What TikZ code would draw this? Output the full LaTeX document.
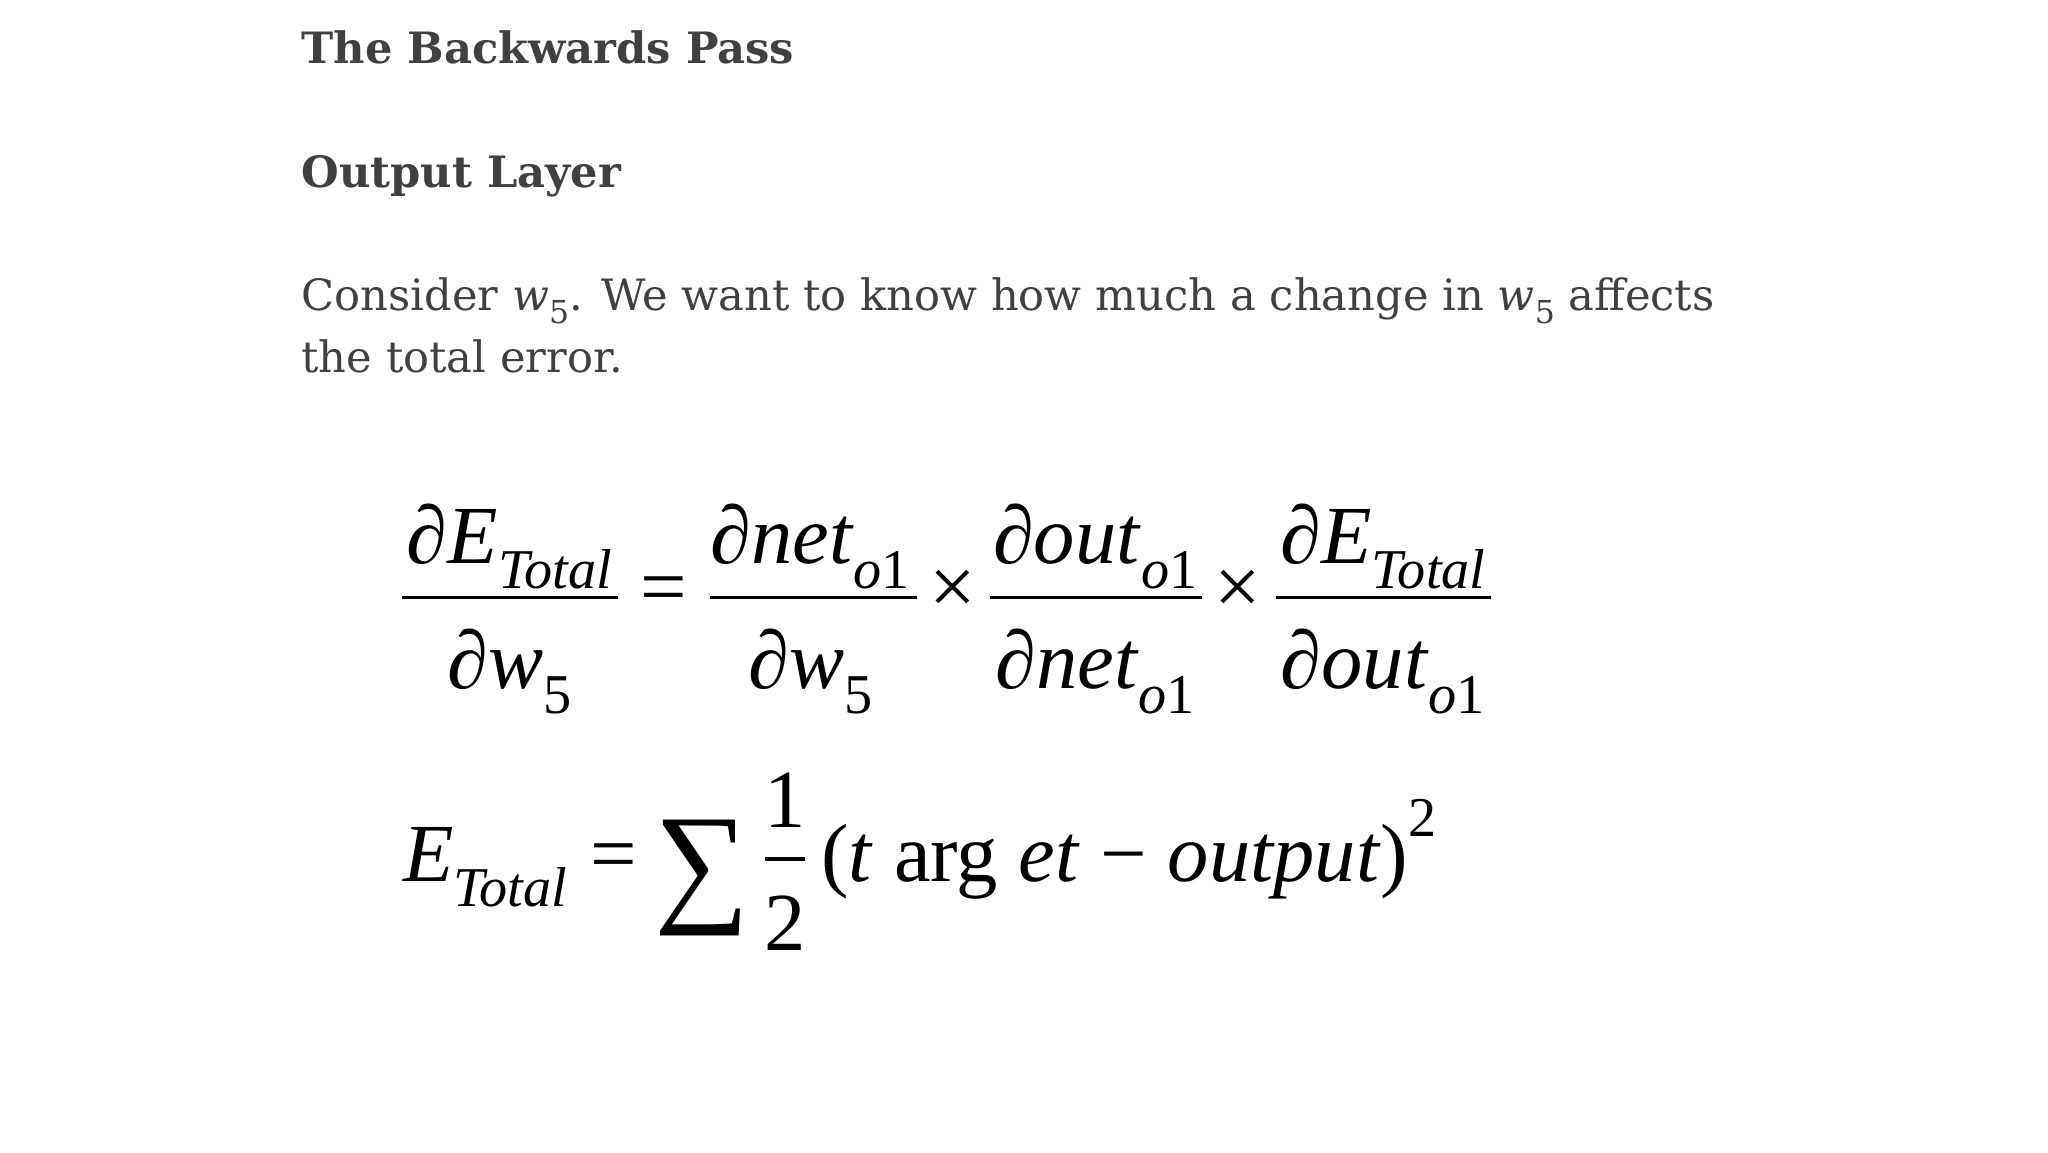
\documentclass[tikz,border=0pt]{standalone}
\usepackage{fontspec}
\setmainfont{Liberation Serif}
\newfontfamily\txt{DejaVu Serif}
\newfontfamily\tms{Liberation Serif}
\definecolor{tgray}{HTML}{404040}
\newcommand{\mbig}{\fontsize{23.5}{27}\selectfont}
\newcommand{\msub}[1]{\raisebox{-0.3em}{\fontsize{16}{19}\selectfont #1}}
\begin{document}
\begin{tikzpicture}[x=0.013196cm,y=-0.013196cm,
  ttl/.style={anchor=base west,inner sep=0,text=tgray,font=\txt\bfseries\fontsize{12.3}{15}\selectfont},
  body/.style={anchor=base west,inner sep=0,text=tgray,font=\txt\fontsize{12.3}{15}\selectfont},
  mth/.style={anchor=base,inner sep=0,font=\tms\mbig},
  fl/.style={line width=0.9pt}]
\useasboundingbox (0,0) rectangle (1552,873);
\node[ttl] (t1) at (228,48) {The Backwards Pass};
\node[ttl] (t2) at (228,142) {Output Layer};
\node[body] (b1) at (228,235) {Consider \textit{w}\raisebox{-0.3em}{\fontsize{9}{11}\selectfont 5}. We want to know how much a change in \textit{w}\raisebox{-0.3em}{\fontsize{9}{11}\selectfont 5} affects};
\node[body] (b2) at (228,282) {the total error.};
% fraction 1
\coordinate (f1a) at (305,453); \coordinate (f1b) at (468,453);
\draw[fl] (f1a) -- (f1b);
\node[mth] (n1) at (386,427) {∂\textit{E}\msub{\textit{Total}}};
\node[mth] (d1) at (386,522) {∂\textit{w}\msub{5}};
\node[mth] (eq1) at (503,466) {=};
% fraction 2
\coordinate (f2a) at (538,453); \coordinate (f2b) at (695,453);
\draw[fl] (f2a) -- (f2b);
\node[mth] (n2) at (614,427) {∂\textit{net}\msub{\textit{o}1}};
\node[mth] (d2) at (614,522) {∂\textit{w}\msub{5}};
\node[mth] (x1) at (722,466) {×};
% fraction 3
\coordinate (f3a) at (750,453); \coordinate (f3b) at (911,453);
\draw[fl] (f3a) -- (f3b);
\node[mth] (n3) at (830,427) {∂\textit{out}\msub{\textit{o}1}};
\node[mth] (d3) at (830,522) {∂\textit{net}\msub{\textit{o}1}};
\node[mth] (x2) at (938,466) {×};
% fraction 4
\coordinate (f4a) at (967,453); \coordinate (f4b) at (1130,453);
\draw[fl] (f4a) -- (f4b);
\node[mth] (n4) at (1048,427) {∂\textit{E}\msub{\textit{Total}}};
\node[mth] (d4) at (1048,522) {∂\textit{out}\msub{\textit{o}1}};
% second equation
\node[mth,anchor=base west] (et) at (305,668) {\textit{E}\msub{\textit{Total}}};
\node[mth] (eq2) at (465,668) {=};
\node[mth,font=\tms\fontsize{38}{42}\selectfont] (sig) at (532,688) {∑};
\coordinate (h1) at (580,651); \coordinate (h2) at (610,651);
\draw[fl] (h1) -- (h2);
\node[mth] (one) at (595,627) {1};
\node[mth] (two) at (595,720) {2};
\node[mth,anchor=base west] (rest) at (622,668) {(\textit{t} arg \textit{et} − \textit{output})\raisebox{0.55em}{\fontsize{16}{19}\selectfont 2}};
\end{tikzpicture}
\end{document}
